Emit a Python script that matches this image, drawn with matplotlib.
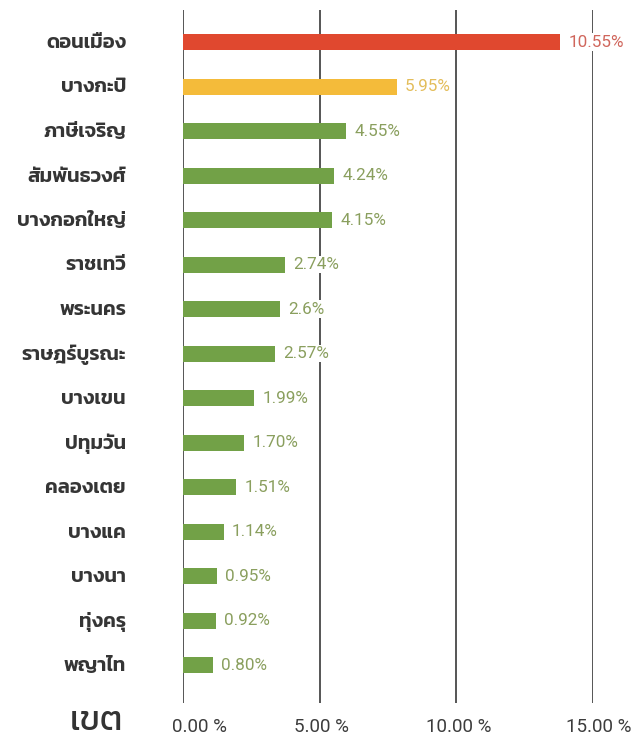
import matplotlib
matplotlib.use('Agg')
import matplotlib.pyplot as plt

# districts, top to bottom
districts = ['ดอนเมือง', 'บางกะปิ', 'ภาษีเจริญ', 'สัมพันธวงศ์', 'บางกอกใหญ่',
             'ราชเทวี', 'พระนคร', 'ราษฎร์บูรณะ', 'บางเขน', 'ปทุมวัน',
             'คลองเตย', 'บางแค', 'บางนา', 'ทุ่งครุ', 'พญาไท']
# bar lengths as drawn against the axis (the picture's bars are longer than their labels)
bar_values = [13.81, 7.83, 5.96, 5.54, 5.45, 3.74, 3.55, 3.37, 2.60, 2.23,
              1.94, 1.49, 1.25, 1.21, 1.09]
value_labels = ['10.55%', '5.95%', '4.55%', '4.24%', '4.15%', '2.74%', '2.6%',
                '2.57%', '1.99%', '1.70%', '1.51%', '1.14%', '0.95%', '0.92%',
                '0.80%']
xticks = [0, 5, 10, 15]
xtick_labels = ['0.00 %', '5.00 %', '10.00 %', '15.00 %']

thai = ['Kanit', 'Prompt', 'Noto Sans Thai', 'DejaVu Sans']
nums = ['Roboto', 'DejaVu Sans']

bar_colors = ['#e0482f', '#f4bb3a'] + ['#72a147'] * 13
text_colors = ['#d0665c', '#e3bd5a'] + ['#8a9f5e'] * 13

fig = plt.figure(figsize=(6.36, 7.36), dpi=100)
# axes: x 183..593 px, y 10..703 px (from top)
ax = fig.add_axes([183 / 636, 1 - 703 / 736, 410 / 636, 693 / 736])

y = list(range(len(districts)))
ax.barh(y, bar_values, height=0.36, color=bar_colors, zorder=3)

for xv in xticks:
    ax.axvline(xv, color='#555555', lw=1.4, zorder=1)

for i in y:
    ax.text(bar_values[i] + 0.3, i, value_labels[i], va='center', ha='left',
            fontsize=12.3, color=text_colors[i], family=nums, zorder=4,
            bbox=dict(facecolor='white', edgecolor='none', pad=1.0))

ax.set_xlim(0, 15)
ax.set_ylim(14.85, -0.72)
ax.set_xticks([])
ax.set_yticks([])
for s in ax.spines.values():
    s.set_visible(False)

for i in y:
    fig.text(126 / 636, 1 - (43 + i * 44.5) / 736, districts[i], ha='right',
             va='center', fontsize=14.5, fontweight='semibold', color='#353535',
             family=thai)

# tick labels sit slightly right of their grid lines in the picture
shift = [17, 2, 2, 6]
for xv, lab, dx in zip(xticks, xtick_labels, shift):
    fig.text((183 + xv * 410 / 15 + dx) / 636, 1 - 727 / 736, lab, ha='center',
             va='center', fontsize=13.5, color='#3c3c3c', family=nums)

fig.text(123 / 636, 1 - 722 / 736, 'เขต', ha='right', va='center', fontsize=25,
         color='#333333', family=thai)

fig.savefig('out.png', dpi=100)
